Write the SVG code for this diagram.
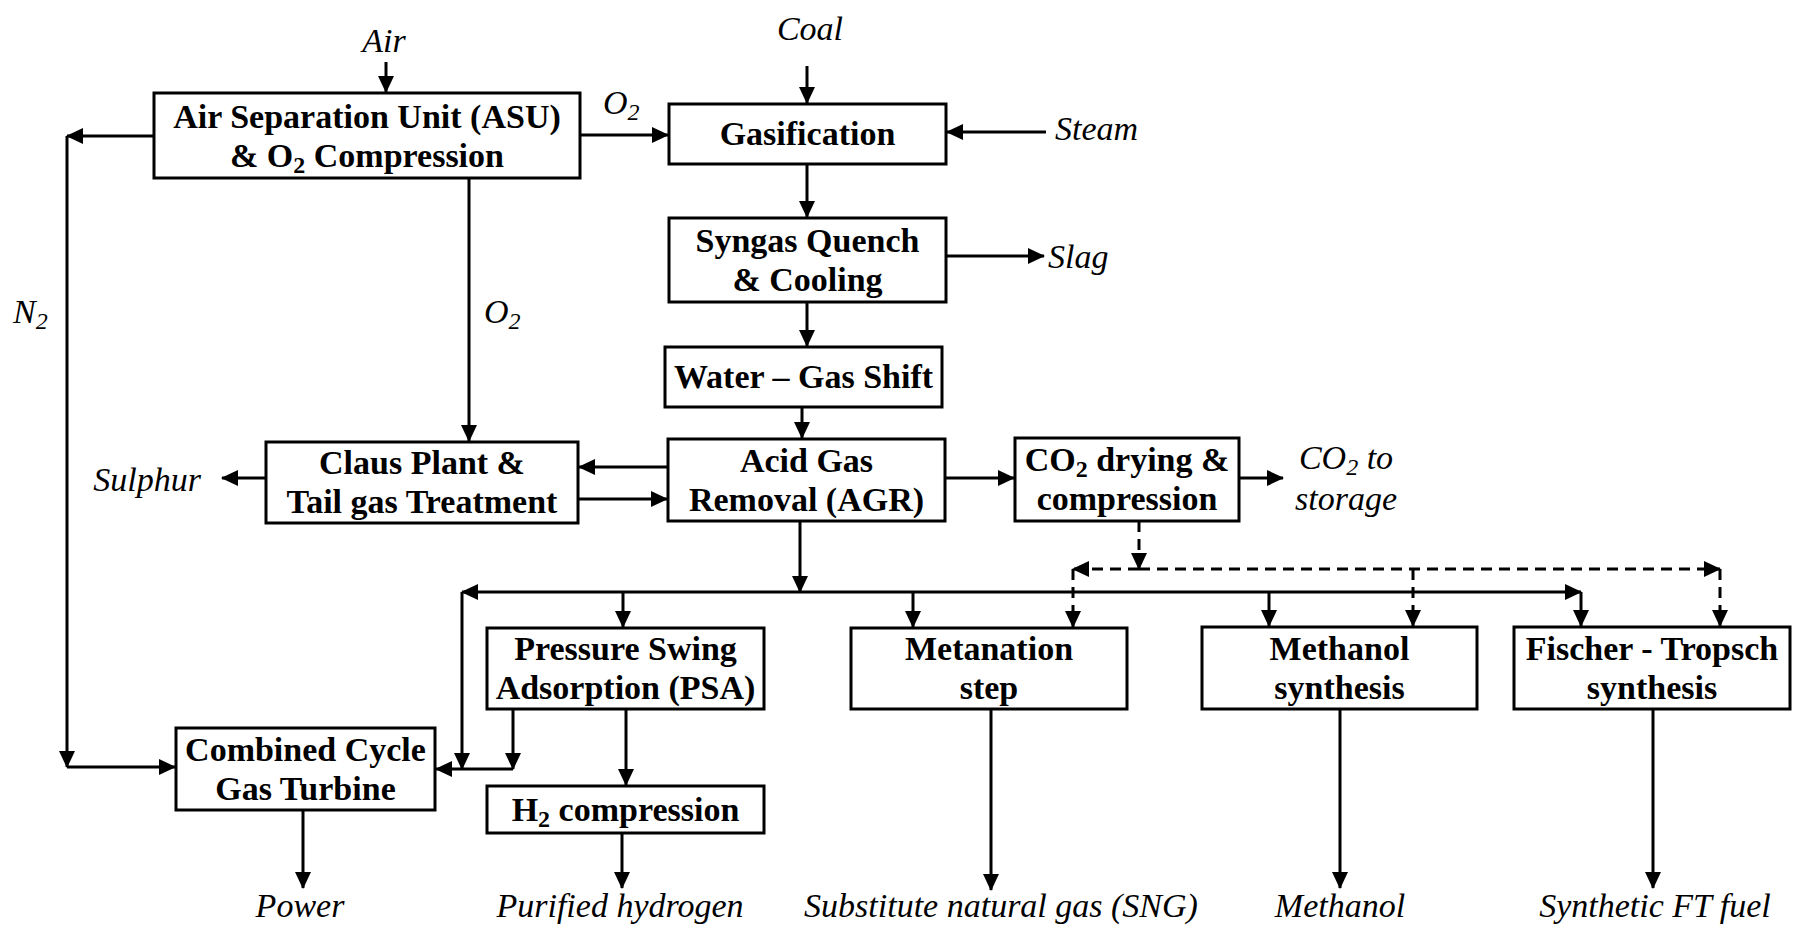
<svg xmlns="http://www.w3.org/2000/svg" width="1796" height="930" viewBox="0 0 1796 930">
<defs>
<marker id="ah" markerUnits="userSpaceOnUse" markerWidth="17" markerHeight="16" refX="16" refY="8" orient="auto">
<path d="M0,0 L17,8 L0,16 z" fill="#000"/>
</marker>
<style>
.box rect{fill:#fff;stroke:#000;stroke-width:3}
.box text{font-family:"Liberation Serif","Times New Roman",serif;font-weight:bold;font-size:34px;text-anchor:middle;fill:#000}
.lbl{font-family:"Liberation Serif","Times New Roman",serif;font-style:italic;font-size:34px;fill:#000}
.c{text-anchor:middle}
#connectors path{fill:none;stroke:#000;stroke-width:3}
#connectors .a{marker-end:url(#ah)}
#connectors .d{stroke-dasharray:11 7}
</style>
</defs>
<rect width="1796" height="930" fill="#fff"/>

<g id="connectors">
<path class="a" d="M386,62 V92"/>
<path class="a" d="M807,66 V103"/>
<path class="a" d="M580,135 H668"/>
<path class="a" d="M1046,132 H947"/>
<path class="a" d="M807,164 V217"/>
<path class="a" d="M946,256 H1044"/>
<path class="a" d="M807,302 V346"/>
<path class="a" d="M802,407 V438"/>
<path class="a" d="M469,178 V441"/>
<path class="a" d="M154,136 H67"/>
<path class="a" d="M67,136 V767"/>
<path class="a" d="M67,767 H175"/>
<path class="a" d="M668,467 H579"/>
<path class="a" d="M578,499 H667"/>
<path class="a" d="M266,478 H222"/>
<path class="a" d="M945,478 H1014"/>
<path class="a" d="M1239,478 H1283"/>
<path class="a" d="M800,521 V592"/>
<path class="a" d="M800,592 H462"/>
<path class="a" d="M462,592 V769"/>
<path class="a" d="M513,769 H436"/>
<path class="a" d="M513,709 V769"/>
<path class="a" d="M800,592 H1581"/>
<path class="a" d="M1581,592 V626"/>
<path class="a" d="M623,592 V627"/>
<path class="a" d="M913,592 V627"/>
<path class="a" d="M1269,592 V626"/>
<path class="a" d="M626,709 V785"/>
<path class="a" d="M303,810 V888"/>
<path class="a" d="M622,833 V888"/>
<path class="a" d="M991,709 V890"/>
<path class="a" d="M1340,709 V888"/>
<path class="a" d="M1653,709 V888"/>
<path class="a d" d="M1139,521 V569"/>
<path class="a d" d="M1139,569 H1073"/>
<path class="a d" d="M1073,569 V627"/>
<path class="a d" d="M1139,569 H1720"/>
<path class="a d" d="M1720,569 V626"/>
<path class="a d" d="M1413,569 V626"/>
</g>

<g id="asu" class="box">
<rect x="154" y="93" width="426" height="85"/>
<text x="367" y="128">Air Separation Unit (ASU)</text>
<text x="367" y="167">&amp; O<tspan font-size="24" dy="6">2</tspan><tspan dy="-6"> Compression</tspan></text>
</g>
<g id="gasification" class="box">
<rect x="669" y="104" width="277" height="60"/>
<text x="807.5" y="145">Gasification</text>
</g>
<g id="syngas" class="box">
<rect x="669" y="218" width="277" height="84"/>
<text x="807.5" y="252">Syngas Quench</text>
<text x="807.5" y="291">&amp; Cooling</text>
</g>
<g id="wgs" class="box">
<rect x="665" y="347" width="277" height="60"/>
<text x="803.5" y="388">Water – Gas Shift</text>
</g>
<g id="agr" class="box">
<rect x="668" y="439" width="277" height="82"/>
<text x="806.5" y="472">Acid Gas</text>
<text x="806.5" y="511">Removal (AGR)</text>
</g>
<g id="claus" class="box">
<rect x="266" y="442" width="312" height="81"/>
<text x="422" y="474">Claus Plant &amp;</text>
<text x="422" y="513">Tail gas Treatment</text>
</g>
<g id="co2" class="box">
<rect x="1015" y="438" width="224" height="83"/>
<text x="1127" y="471">CO<tspan font-size="24" dy="6">2</tspan><tspan dy="-6"> drying &amp;</tspan></text>
<text x="1127" y="510">compression</text>
</g>
<g id="psa" class="box">
<rect x="487" y="628" width="277" height="81"/>
<text x="625.5" y="660">Pressure Swing</text>
<text x="625.5" y="699">Adsorption (PSA)</text>
</g>
<g id="metanation" class="box">
<rect x="851" y="628" width="276" height="81"/>
<text x="989" y="660">Metanation</text>
<text x="989" y="699">step</text>
</g>
<g id="methanol" class="box">
<rect x="1202" y="627" width="275" height="82"/>
<text x="1339.5" y="660">Methanol</text>
<text x="1339.5" y="699">synthesis</text>
</g>
<g id="ft" class="box">
<rect x="1514" y="627" width="276" height="82"/>
<text x="1652" y="660">Fischer - Tropsch</text>
<text x="1652" y="699">synthesis</text>
</g>
<g id="ccgt" class="box">
<rect x="176" y="728" width="259" height="82"/>
<text x="305.5" y="761">Combined Cycle</text>
<text x="305.5" y="800">Gas Turbine</text>
</g>
<g id="h2" class="box">
<rect x="487" y="786" width="277" height="47"/>
<text x="625.5" y="821">H<tspan font-size="24" dy="6">2</tspan><tspan dy="-6"> compression</tspan></text>
</g>

<g id="labels">
<text class="lbl c" x="384" y="52">Air</text>
<text class="lbl c" x="810" y="40">Coal</text>
<text class="lbl" x="603" y="114">O<tspan font-size="24" dy="6">2</tspan></text>
<text class="lbl" x="1055" y="140">Steam</text>
<text class="lbl" x="1048" y="268">Slag</text>
<text class="lbl" x="13" y="323">N<tspan font-size="24" dy="6">2</tspan></text>
<text class="lbl" x="484" y="323">O<tspan font-size="24" dy="6">2</tspan></text>
<text class="lbl" x="201" y="491" text-anchor="end">Sulphur</text>
<text class="lbl c" x="1346" y="469">CO<tspan font-size="24" dy="6">2</tspan><tspan dy="-6"> to</tspan></text>
<text class="lbl c" x="1346" y="510">storage</text>
<text class="lbl c" x="300" y="917">Power</text>
<text class="lbl c" x="620" y="917">Purified hydrogen</text>
<text class="lbl c" x="1001" y="917">Substitute natural gas (SNG)</text>
<text class="lbl c" x="1340" y="917">Methanol</text>
<text class="lbl c" x="1655" y="917">Synthetic FT fuel</text>
</g>
</svg>
